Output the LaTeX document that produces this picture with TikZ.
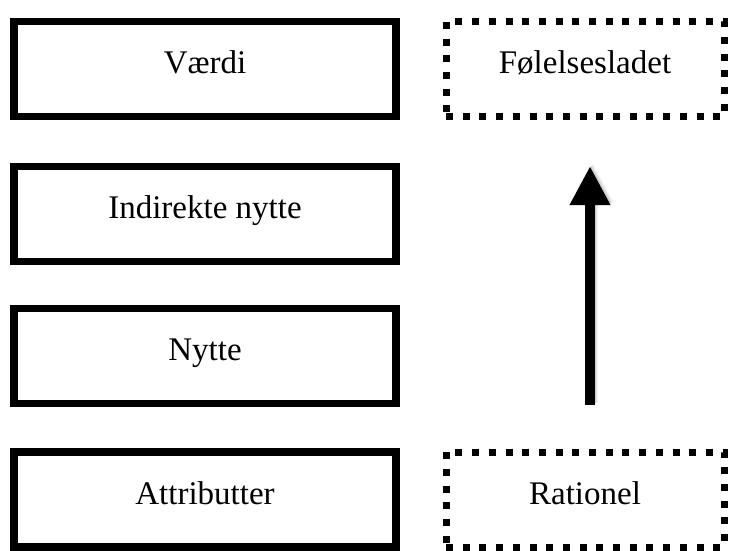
\documentclass[tikz,border=0pt]{standalone}
\usepackage{fontspec}
\setmainfont{Liberation Serif}
\usetikzlibrary{arrows.meta}
\begin{document}
\begin{tikzpicture}[x=1pt,y=-1pt,
  levelbox/.style={draw=black, line width=7.5pt, minimum width=382pt, minimum height=95pt, inner sep=0pt, outer sep=0pt},
  moodbox/.style={draw=black, line width=7pt, line cap=butt, dash pattern=on 7pt off 9.7pt, minimum width=278pt, minimum height=95pt, inner sep=0pt, outer sep=0pt},
  boxtext/.style={font=\fontsize{33}{40}\selectfont, anchor=base, inner sep=0pt}
]
\useasboundingbox (0,0) rectangle (730,550);

% left column: levels
\node[levelbox] (vaerdi)   at (205,69)    {};
\node[levelbox] (indirekte) at (205,214)  {};
\node[levelbox] (nytte)    at (205,356)   {};
\node[levelbox] (attr)     at (205,499.5) {};

\node[boxtext] (tvaerdi) at ([yshift=-52pt]vaerdi.north) {Værdi};
\node[boxtext] (tindirekte) at ([yshift=-52pt]indirekte.north) {Indirekte nytte};
\node[boxtext] (tnytte) at ([yshift=-52pt]nytte.north) {Nytte};
\node[boxtext] (tattr) at ([yshift=-52pt]attr.north) {Attributter};

% right column: dashed boxes
\node[moodbox] (foel) at (585,69)    {};
\node[moodbox] (rat)  at (585,499.5) {};
\node[boxtext] (tfoel) at ([yshift=-52pt]foel.north) {Følelsesladet};
\node[boxtext] (trat)  at ([yshift=-52pt]rat.north) {Rationel};

% arrow from rational to emotional, with a soft shadow
\coordinate (arrowstart) at (590,405);
\coordinate (arrowend)   at (590,166);
\foreach \o/\a in {3/0.05,2/0.07,1/0.09}{
  \draw[line width=10pt, black, opacity=\a, -{Triangle[width=38pt,length=39pt]}]
    ([shift={(\o pt,\o pt)}]arrowstart) -- ([shift={(\o pt,\o pt)}]arrowend);
}
\draw[line width=10pt, black, -{Triangle[width=38pt,length=39pt]}] (arrowstart) -- (arrowend);
\end{tikzpicture}
\end{document}
